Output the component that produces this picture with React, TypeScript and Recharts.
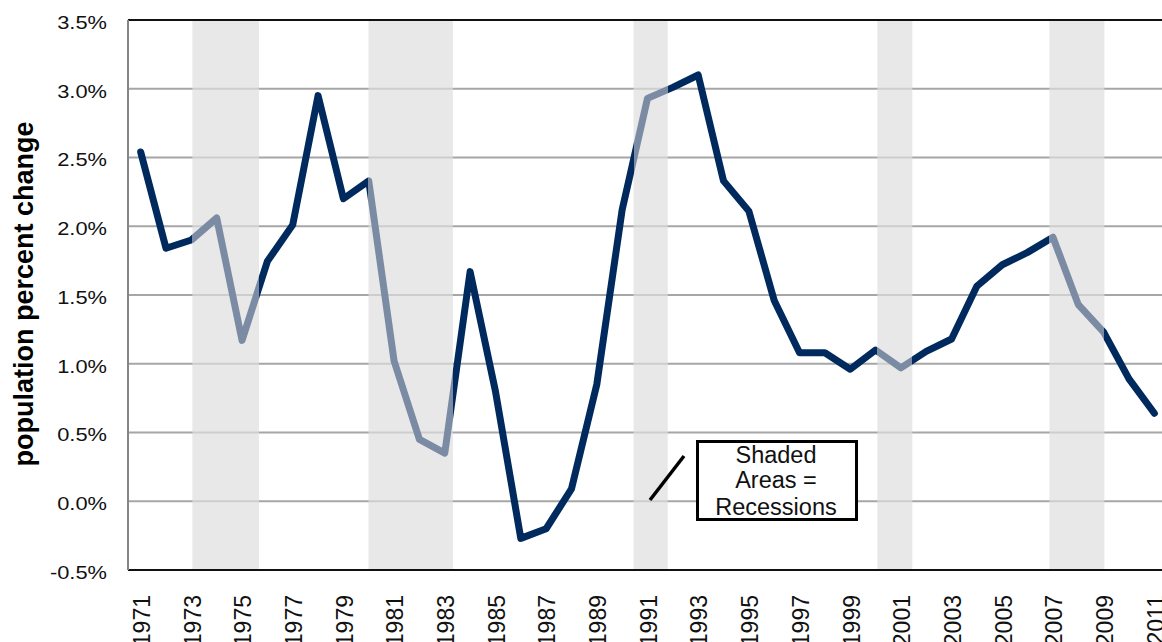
import React from 'react';
import { LineChart, Line, XAxis, YAxis, CartesianGrid, ReferenceArea, ReferenceLine } from 'recharts';

const years = [
  1971, 1972, 1973, 1974, 1975, 1976, 1977, 1978, 1979, 1980,
  1981, 1982, 1983, 1984, 1985, 1986, 1987, 1988, 1989, 1990,
  1991, 1992, 1993, 1994, 1995, 1996, 1997, 1998, 1999, 2000,
  2001, 2002, 2003, 2004, 2005, 2006, 2007, 2008, 2009, 2010, 2011,
];

const pctChange = [
  2.54, 1.84, 1.9, 2.06, 1.17, 1.745, 2.01, 2.95, 2.2, 2.33,
  1.02, 0.45, 0.35, 1.67, 0.8, -0.27, -0.2, 0.09, 0.85, 2.12,
  2.93, 3.01, 3.1, 2.33, 2.11, 1.46, 1.08, 1.08, 0.96, 1.1,
  0.97, 1.09, 1.18, 1.565, 1.72, 1.81, 1.92, 1.43, 1.23, 0.89, 0.64,
];

// recession spans (fractional years)
const recessions = [
  [1973.04, 1975.67],
  [1979.99, 1983.32],
  [1990.45, 1991.8],
  [2000.07, 2001.45],
  [2006.86, 2009.03],
];

const xTicks = [
  1971, 1973, 1975, 1977, 1979, 1981, 1983, 1985, 1987, 1989, 1991,
  1993, 1995, 1997, 1999, 2001, 2003, 2005, 2007, 2009, 2011,
];
const yTicks = [-0.5, 0, 0.5, 1, 1.5, 2, 2.5, 3, 3.5];

const NAVY = '#002a5e';
const LIGHT = '#7b8ba4';
const FONT = '"Liberation Sans", Arial, sans-serif';

const data = years.map((year, i) => ({ year, value: pctChange[i] }));

const first = years[0];
const last = years[years.length - 1];
const stops: { offset: number; color: string }[] = [{ offset: 0, color: NAVY }];
recessions.forEach(([s, e]) => {
  const o1 = (s - first) / (last - first);
  const o2 = (e - first) / (last - first);
  stops.push({ offset: o1, color: NAVY }, { offset: o1, color: LIGHT });
  stops.push({ offset: o2, color: LIGHT }, { offset: o2, color: NAVY });
});
stops.push({ offset: 1, color: NAVY });

function YearTick(props: any) {
  const { x, y, payload } = props;
  return (
    <text
      transform={`translate(${x + 1},${y + 25}) rotate(-90)`}
      textAnchor="end"
      dy="0.36em"
      style={{ fontSize: 23, fontFamily: FONT }}
      fill="#111"
    >
      {payload.value}
    </text>
  );
}

// the original labels are a little wider than Arial, so stretch them sideways
function PctTick(props: any) {
  const { x, y, payload } = props;
  return (
    <text
      transform={`translate(${x},${y + 8.8}) scale(1.15,1)`}
      textAnchor="end"
      style={{ fontSize: 19, fontFamily: FONT }}
      fill="#111"
    >
      {`${Number(payload.value).toFixed(1)}%`}
    </text>
  );
}

export default function App() {
  return (
    <div style={{ position: 'absolute', left: 0, top: 0, width: 1162, height: 642, overflow: 'hidden', background: '#fff' }}>
      <LineChart width={1167} height={642} data={data} margin={{ top: 20, right: 0, left: 0, bottom: 0 }}>
        <defs>
          <linearGradient id="recessionStroke" x1="0" y1="0" x2="1" y2="0">
            {stops.map((s, i) => (
              <stop key={i} offset={s.offset} stopColor={s.color} />
            ))}
          </linearGradient>
        </defs>
        <CartesianGrid vertical={false} stroke="#a6a6a6" strokeWidth={2} />
        <XAxis
          type="number"
          dataKey="year"
          domain={[1970.5, 2011.5]}
          ticks={xTicks}
          tick={<YearTick />}
          tickLine={false}
          tickSize={0}
          tickMargin={0}
          axisLine={{ stroke: '#111', strokeWidth: 2 }}
          height={72}
          interval={0}
        />
        <YAxis
          domain={[-0.5, 3.5]}
          ticks={yTicks}
          width={128}
          tickLine={false}
          tickSize={0}
          tickMargin={21}
          axisLine={{ stroke: '#858585', strokeWidth: 2 }}
          tick={<PctTick />}
        />
        <ReferenceLine y={3.5} stroke="#111" strokeWidth={2} />
        {recessions.map(([s, e], i) => (
          <ReferenceArea key={i} x1={s} x2={e} fill="#dedede" fillOpacity={0.7} stroke="none" />
        ))}
        <Line
          type="linear"
          dataKey="value"
          stroke="url(#recessionStroke)"
          strokeWidth={7}
          strokeLinejoin="round"
          strokeLinecap="round"
          dot={false}
          activeDot={false}
          isAnimationActive={false}
        />
      </LineChart>
      <svg width={1162} height={642} style={{ position: 'absolute', left: 0, top: 0, pointerEvents: 'none' }}>
        <text
          transform="translate(33,294) rotate(-90)"
          textAnchor="middle"
          fontSize={27}
          fontWeight="bold"
          fontFamily={FONT}
          fill="#000"
        >
          population percent change
        </text>
        <line x1={650} y1={500} x2={684} y2={456} stroke="#000" strokeWidth={3.5} />
        <rect x={697.5} y={441.5} width={159} height={78} fill="#fff" stroke="#000" strokeWidth={3} />
        <g fontSize={23.5} fontFamily={FONT} fill="#111" textAnchor="middle">
          <text x={776} y={462.5}>Shaded</text>
          <text x={776} y={488}>Areas =</text>
          <text x={776} y={514.5}>Recessions</text>
        </g>
      </svg>
    </div>
  );
}
